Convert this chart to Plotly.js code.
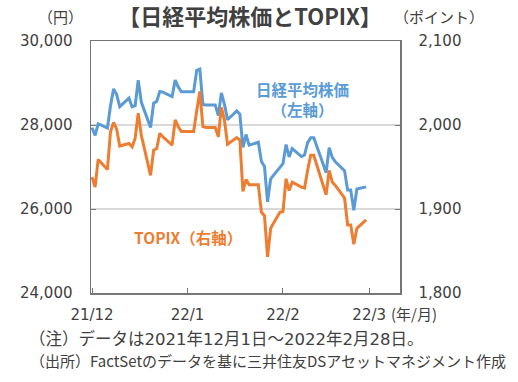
<!DOCTYPE html>
<html>
<head>
<meta charset="utf-8">
<script src="https://cdn.plot.ly/plotly-3.0.1.min.js"></script>
<style>html,body{margin:0;padding:0;background:#fff;}#chart{width:518px;height:382px;}</style>
</head>
<body>
<div id="chart"></div>
<script>
// Trading dates (weekdays; exchange holidays carry the previous close)
const dates = [
  '2021-12-01','2021-12-02','2021-12-03','2021-12-06','2021-12-07','2021-12-08','2021-12-09','2021-12-10',
  '2021-12-13','2021-12-14','2021-12-15','2021-12-16','2021-12-17','2021-12-20','2021-12-21','2021-12-22',
  '2021-12-23','2021-12-24','2021-12-27','2021-12-28','2021-12-29','2021-12-30','2021-12-31',
  '2022-01-03','2022-01-04','2022-01-05','2022-01-06','2022-01-07','2022-01-10','2022-01-11','2022-01-12',
  '2022-01-13','2022-01-14','2022-01-17','2022-01-18','2022-01-19','2022-01-20','2022-01-21','2022-01-24',
  '2022-01-25','2022-01-26','2022-01-27','2022-01-28','2022-01-31',
  '2022-02-01','2022-02-02','2022-02-03','2022-02-04','2022-02-07','2022-02-08','2022-02-09','2022-02-10',
  '2022-02-11','2022-02-14','2022-02-15','2022-02-16','2022-02-17','2022-02-18','2022-02-21','2022-02-22',
  '2022-02-23','2022-02-24','2022-02-25','2022-02-28'
];
// 日経平均株価 (円, left axis)
const nikkei = [
  27935.62,27753.37,28029.57,27927.37,28455.60,28860.62,28725.47,28437.77,
  28640.49,28432.64,28459.72,29066.32,28545.68,27937.81,28517.59,28562.21,
  28798.37,28782.59,28676.46,29069.16,28906.88,28791.71,28791.71,
  28791.71,29301.79,29332.16,28487.87,28478.56,28478.56,28222.48,28765.66,
  28489.13,28124.28,28333.52,28257.25,27467.23,27772.93,27522.26,27588.37,
  27131.34,27011.33,26170.30,26717.34,27001.98,
  27078.48,27533.60,27241.31,27439.99,27248.87,27284.52,27579.87,27696.08,
  27696.08,27079.59,26865.19,27460.40,27232.87,27122.07,26910.87,26449.61,
  26449.61,25970.82,26476.50,26526.82
];
// TOPIX (ポイント, right axis)
const topix = [
  1938,1926,1959,1947,1992,2003,1995,1975,
  1978,1974,1984,2014,1988,1940,1970,1972,
  1990,1986,1976,2006,1998,1992.33,1992.33,
  1992.33,2017,2040,1998,1997,1997,1986,2021,
  2006,1977,1985,1982,1921,1935,1929,1929,
  1896,1892,1843,1877,1896,
  1897,1936,1922,1932,1926,1925,1946,1964,
  1964,1930,1917,1946,1932,1928,1913,1881,
  1881,1858,1877,1887
];
const xTickVals = ['2021-12-01','2022-01-01','2022-02-01','2022-03-01'];
const xTickText = ['21/12','22/1','22/2','22/3'];
const leftTicks = [24000,26000,28000,30000];
const rightTicks = [1800,1900,2000,2100];

const FONT = '"Noto Sans CJK JP", "Noto Sans", sans-serif';
const NUMFONT = '"DejaVu Sans", "Noto Sans CJK JP", sans-serif';
const TXT = '#404040';
const BLUE = '#5B9BD5';
const ORANGE = '#ED7D31';

const traces = [
  {x: dates, y: nikkei, type: 'scatter', mode: 'lines', name: '日経平均株価',
   line: {color: BLUE, width: 3}, yaxis: 'y'},
  {x: dates, y: topix, type: 'scatter', mode: 'lines', name: 'TOPIX',
   line: {color: ORANGE, width: 3}, yaxis: 'y2'}
];

const layout = {
  width: 518, height: 382,
  margin: {l: 91, r: 118, t: 41, b: 89},
  paper_bgcolor: '#fff', plot_bgcolor: '#fff',
  showlegend: false,
  font: {family: FONT, size: 15, color: TXT},
  title: {text: '<b>【日経平均株価とTOPIX】</b>', x: 250/518, xref: 'container', xanchor: 'center',
          y: 1 - 17/382, yref: 'container', yanchor: 'middle',
          font: {family: FONT, size: 22, color: TXT}},
  xaxis: {
    type: 'date', range: ['2021-11-30 16:00', '2022-03-11'],
    tickvals: xTickVals, ticktext: xTickText,
    ticks: 'inside', ticklen: 5, tickcolor: '#767676', tickwidth: 1,
    showline: true, linecolor: '#767676', linewidth: 1.5, mirror: true,
    showgrid: false, zeroline: false,
    ticklabelstandoff: 7,
    tickfont: {family: NUMFONT, size: 15, color: TXT}
  },
  yaxis: {
    range: [24000, 30000], tickvals: leftTicks, tickformat: ',d',
    ticks: 'inside', ticklen: 5, tickcolor: '#767676',
    showline: true, linecolor: '#767676', linewidth: 1.5,
    showgrid: true, gridcolor: '#d9d9d9', gridwidth: 1.5, zeroline: false,
    ticklabelstandoff: 14,
    tickfont: {family: NUMFONT, size: 15, color: TXT}
  },
  yaxis2: {
    range: [1800, 2100], tickvals: rightTicks, tickformat: ',d',
    overlaying: 'y', side: 'right',
    ticks: 'inside', ticklen: 5, tickcolor: '#767676',
    showline: true, linecolor: '#767676', linewidth: 1.5,
    showgrid: false, zeroline: false,
    ticklabelstandoff: 14,
    tickfont: {family: NUMFONT, size: 15, color: TXT}
  },
  annotations: [
    {text: '（円）', xref: 'paper', yref: 'paper', x: (60-91)/309, y: (293-17)/252,
     xanchor: 'center', yanchor: 'middle', showarrow: false, font: {size: 15, color: TXT}},
    {text: '（ポイント）', xref: 'paper', yref: 'paper', x: (439-91)/309, y: (293-17)/252,
     xanchor: 'center', yanchor: 'middle', showarrow: false, font: {size: 15, color: TXT}},
    {text: '(年/月)', xref: 'paper', yref: 'paper', x: (389-91)/309, y: (293-313)/252,
     xanchor: 'left', yanchor: 'middle', showarrow: false, font: {size: 15, color: TXT}},
    {text: '（注）データは2021年12月1日～2022年2月28日。', xref: 'paper', yref: 'paper',
     x: (27-91)/309, y: (293-339)/252, xanchor: 'left', yanchor: 'middle', showarrow: false,
     font: {family: NUMFONT, size: 16.5, color: TXT}},
    {text: '（出所）FactSetのデータを基に三井住友DSアセットマネジメント作成', xref: 'paper', yref: 'paper',
     x: (28-91)/309, y: (293-360)/252, xanchor: 'left', yanchor: 'middle', showarrow: false,
     font: {size: 15, color: TXT}},
    {text: '<b>日経平均株価</b><br><b>（左軸）</b>', xref: 'paper', yref: 'paper',
     x: (302-91)/309, y: (293-98.5)/252, xanchor: 'center', yanchor: 'middle', showarrow: false,
     align: 'center', font: {size: 15.5, color: BLUE}},
    {text: '<b>TOPIX（右軸）</b>', xref: 'paper', yref: 'paper',
     x: (188-91)/309, y: (293-237)/252, xanchor: 'center', yanchor: 'middle', showarrow: false,
     font: {size: 15.5, color: ORANGE}}
  ]
};

Plotly.newPlot('chart', traces, layout, {staticPlot: true, displayModeBar: false});
</script>
</body>
</html>
